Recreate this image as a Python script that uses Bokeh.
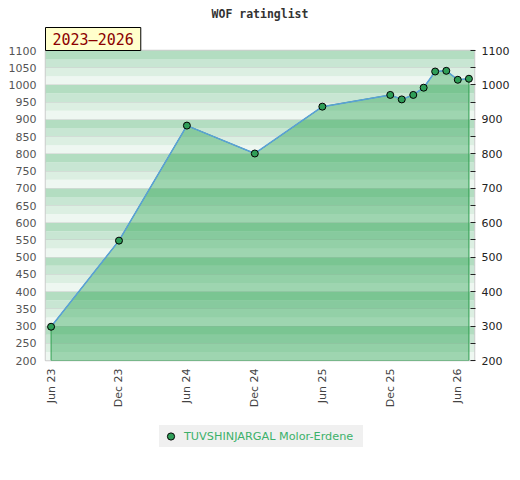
import math
from datetime import datetime, timedelta
from bokeh.plotting import figure
from bokeh.layouts import column
from bokeh.models import (Range1d, LinearAxis, FixedTicker, DatetimeTickFormatter,
                          BoxAnnotation, Title, Legend, LegendItem)
from bokeh.embed import file_html
from bokeh.resources import INLINE

title_text = "WOF ratinglist"
period_text = "2023–2026"
player = "TUVSHINJARGAL Molor-Erdene"

dates = ["2023-06-01", "2023-12-01", "2024-06-01", "2024-12-01", "2025-06-01",
         "2025-12-01", "2026-01-01", "2026-02-01", "2026-03-01", "2026-04-01",
         "2026-05-01", "2026-06-01", "2026-07-01"]
ratings = [298, 548, 882, 801, 937, 971, 958, 971, 992, 1039, 1041, 1015, 1018]
tick_dates = ["2023-06-01", "2023-12-01", "2024-06-01", "2024-12-01",
              "2025-06-01", "2025-12-01", "2026-06-01"]
y_min, y_max = 200, 1100
left_ticks = list(range(200, 1101, 50))
right_ticks = list(range(200, 1101, 100))
right_minor = list(range(250, 1051, 100))
stripe_colors = ["#eef7f1", "#dcefe2", "#c8e6d3", "#b3ddc1"]

x = [datetime.fromisoformat(d) for d in dates]
epoch = datetime(1970, 1, 1)
tick_ms = [(datetime.fromisoformat(d) - epoch).total_seconds() * 1000 for d in tick_dates]
pad = timedelta(days=15)

p = figure(width=512, height=420, x_axis_type="datetime",
           x_range=Range1d(x[0] - pad, x[-1] + pad), y_range=Range1d(y_min, y_max),
           output_backend="svg", toolbar_location=None,
           min_border_left=45, min_border_right=37, min_border_top=50, min_border_bottom=60)
p.background_fill_color = "white"
p.border_fill_color = "white"
p.outline_line_color = "#cccccc"
p.outline_line_width = 1.5

p.title.text = title_text
p.title.align = "center"
p.title.text_font = "DejaVu Sans Mono"
p.title.text_font_style = "bold"
p.title.text_font_size = "11.5px"
p.title.text_color = "#333333"
p.title.standoff = 9

period = Title(text=period_text, align="left", text_font="DejaVu Sans Mono",
               text_font_style="normal", text_font_size="15px", text_color="#8b0000",
               background_fill_color="#ffffcc", border_line_color="black",
               border_line_width=1, standoff=0,
               padding=dict(left=7, right=7, top=3, bottom=2))
p.add_layout(period, "above")

# stripes
for i, b in enumerate(range(y_min, y_max, 25)):
    p.add_layout(BoxAnnotation(bottom=b, top=b + 25, fill_color=stripe_colors[i % 4],
                               fill_alpha=1, line_color=None, level="image"))

p.xgrid.grid_line_color = None
p.ygrid.ticker = FixedTicker(ticks=left_ticks)
p.ygrid.grid_line_color = "#c8c8c8"
p.ygrid.grid_line_alpha = 0.45

# area
xs = [x[0]] + x + [x[-1]]
ys = [y_min] + ratings + [y_min]
p.patch(xs, ys, fill_color="#1e9d48", fill_alpha=0.38, line_color="#2e9e4f", line_width=1)
p.line(x, ratings, line_color="#5aa0d8", line_width=1.5)
marker_style = dict(size=7, fill_color="#2f9e58", line_color="black", line_width=1)
p.scatter(x, ratings, **marker_style)

# left axis
ya = p.yaxis[0]
ya.ticker = FixedTicker(ticks=left_ticks)
ya.axis_line_color = None
ya.major_tick_line_color = None
ya.minor_tick_line_color = None
ya.major_tick_in = 0
ya.major_tick_out = 0
ya.major_label_standoff = 9
ya.major_label_text_font = "DejaVu Sans"
ya.major_label_text_font_size = "11px"
ya.major_label_text_color = "#555555"

# right axis
ra = LinearAxis(ticker=FixedTicker(ticks=right_ticks, minor_ticks=right_minor))
ra.axis_line_color = None
ra.major_tick_in = 4
ra.major_tick_out = 1
ra.minor_tick_in = 4
ra.minor_tick_out = 1
ra.major_tick_line_color = "#222222"
ra.minor_tick_line_color = "#222222"
ra.major_label_standoff = 6
ra.major_label_text_font = "DejaVu Sans"
ra.major_label_text_font_size = "11px"
ra.major_label_text_color = "#222222"
p.add_layout(ra, "right")

# x axis
xa = p.xaxis[0]
xa.ticker = FixedTicker(ticks=tick_ms)
xa.formatter = DatetimeTickFormatter(days="%b %y", months="%b %y", years="%b %y",
                                     hours="%b %y", minutes="%b %y", seconds="%b %y")
xa.major_label_orientation = math.pi / 2
xa.axis_line_color = None
xa.major_tick_line_color = None
xa.minor_tick_line_color = None
xa.major_tick_in = 0
xa.major_tick_out = 0
xa.major_label_standoff = 8
xa.major_label_text_font = "DejaVu Sans"
xa.major_label_text_font_size = "11px"
xa.major_label_text_color = "#444444"

# legend in a small figure below (series drawn off-view there, only its legend shows)
lf = figure(width=512, height=44, output_backend="svg", toolbar_location=None,
            min_border=0, x_axis_location=None, y_axis_location=None,
            x_range=Range1d(0, 1), y_range=Range1d(0, 1))
lf.outline_line_color = None
lf.grid.grid_line_color = None
lr = lf.scatter(x, ratings, **marker_style)
legend = Legend(items=[LegendItem(label=player, renderers=[lr])], location=(114, 17),
                orientation="horizontal", background_fill_color="#f0f0f0",
                background_fill_alpha=1, border_line_color=None,
                label_text_color="#3cb06a", label_text_font="DejaVu Sans",
                label_text_font_size="11.25px", glyph_width=23, glyph_height=18,
                label_height=22, label_width=179, label_standoff=2, padding=0,
                spacing=0, margin=0)
lf.add_layout(legend)

layout = column(p, lf)
open("out.html", "w").write(file_html(layout, INLINE))
